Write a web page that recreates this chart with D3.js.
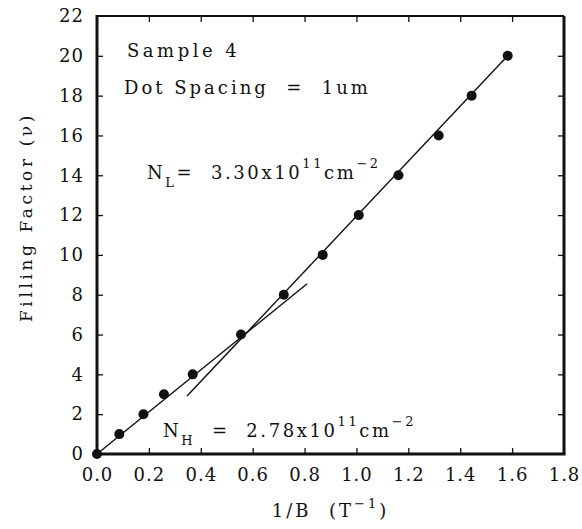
<!DOCTYPE html>
<html>
<head>
<meta charset="utf-8">
<script src="https://cdn.jsdelivr.net/npm/d3@7"></script>
<style>
    body { margin: 0; background: #fff; }
    text { font-family: "DejaVu Serif", serif; fill: #111; white-space: pre; }
</style>
</head>
<body>
<svg id="chart"></svg>
<script>
// data
const invB = [0, 0.086, 0.179, 0.258, 0.369, 0.555, 0.72, 0.87, 1.009, 1.162, 1.317, 1.444, 1.583];
const fillingFactor = [0, 1, 2, 3, 4, 6, 8, 10, 12, 14, 16, 18, 20];
const lowFieldLine = [[0, 0], [0.81, 8.55]];
const highFieldLine = [[0.347, 2.91], [1.583, 20]];
const xTicks = [0, 0.2, 0.4, 0.6, 0.8, 1.0, 1.2, 1.4, 1.6, 1.8];
const yTicks = [0, 2, 4, 6, 8, 10, 12, 14, 16, 18, 20, 22];

const config = {
    containerWidth: 582,
    containerHeight: 529,
    margin: { top: 16, right: 18, bottom: 75, left: 97 }
};

const width = config.containerWidth - config.margin.left - config.margin.right;
const height = config.containerHeight - config.margin.top - config.margin.bottom;

const svg = d3.select("#chart")
    .attr("width", config.containerWidth)
    .attr("height", config.containerHeight);

const chart = svg.append("g")
    .attr("transform", `translate(${config.margin.left},${config.margin.top})`);

const xScale = d3.scaleLinear().domain([0, 1.8]).range([0, width]);
const yScale = d3.scaleLinear().domain([0, 22]).range([height, 0]);

// axes, ticks pointing inwards
const xAxis = d3.axisBottom(xScale).tickValues(xTicks).tickFormat(d3.format(".1f"))
    .tickSizeInner(-6).tickSizeOuter(0).tickPadding(14);
const yAxis = d3.axisLeft(yScale).tickValues(yTicks)
    .tickSizeInner(-6).tickSizeOuter(0).tickPadding(13);
const xTop = d3.axisTop(xScale).tickValues(xTicks).tickFormat("").tickSizeInner(-6).tickSizeOuter(0);
const yRight = d3.axisRight(yScale).tickValues(yTicks).tickFormat("").tickSizeInner(-6).tickSizeOuter(0);

const gx = chart.append("g").attr("transform", `translate(0,${height})`).call(xAxis);
const gy = chart.append("g").call(yAxis);
const gt = chart.append("g").call(xTop);
const gr = chart.append("g").attr("transform", `translate(${width},0)`).call(yRight);

[gx, gy, gt, gr].forEach(g => {
    g.select(".domain").remove();
    g.selectAll("line").attr("stroke", "#111").attr("stroke-width", 1.3);
    g.selectAll("text").attr("font-size", 18).attr("font-family", "DejaVu Serif")
        .attr("letter-spacing", 1).attr("fill", "#111");
});
gx.selectAll(".tick").filter(d => d === 0 || d === 1.8).select("line").remove();
gy.selectAll(".tick").filter(d => d === 0 || d === 22).select("line").remove();
gt.selectAll(".tick").filter(d => d === 0 || d === 1.8).select("line").remove();
gr.selectAll(".tick").filter(d => d === 0 || d === 22).select("line").remove();

// frame
chart.append("line").attr("x1", 0).attr("x2", width).attr("y1", 0).attr("y2", 0)
    .attr("stroke", "#111").attr("stroke-width", 2);
chart.append("line").attr("x1", width).attr("x2", width).attr("y1", 0).attr("y2", height)
    .attr("stroke", "#111").attr("stroke-width", 3);
chart.append("line").attr("x1", 0).attr("x2", 0).attr("y1", -1).attr("y2", height + 1.5)
    .attr("stroke", "#111").attr("stroke-width", 3);
chart.append("line").attr("x1", 0).attr("x2", width + 1.5).attr("y1", height).attr("y2", height)
    .attr("stroke", "#111").attr("stroke-width", 3);

// fitted lines
const line = d3.line().x(d => xScale(d[0])).y(d => yScale(d[1]));
[lowFieldLine, highFieldLine].forEach(seg => {
    chart.append("path")
        .datum(seg)
        .attr("fill", "none")
        .attr("stroke", "#111")
        .attr("stroke-width", 1.4)
        .attr("d", line);
});

// points
chart.selectAll(".dot")
    .data(invB.map((x, i) => [x, fillingFactor[i]]))
    .join("circle")
    .attr("class", "dot")
    .attr("cx", d => xScale(d[0]))
    .attr("cy", d => yScale(d[1]))
    .attr("r", 5)
    .attr("fill", "#111");

// axis titles
chart.append("text")
    .attr("x", width / 2)
    .attr("y", height + 63)
    .attr("text-anchor", "middle")
    .attr("font-size", 18)
    .attr("letter-spacing", 3)
    .call(t => {
        t.append("tspan").text("1/B  (T");
        t.append("tspan").attr("font-size", 13).attr("dy", -9).text("−1");
        t.append("tspan").attr("dy", 9).text(")");
    });

chart.append("text")
    .attr("transform", `translate(-65,${height / 2 - 18}) rotate(-90)`)
    .attr("text-anchor", "middle")
    .attr("font-size", 17)
    .attr("letter-spacing", 3.6)
    .text("Filling Factor (ν)");

// annotations
chart.append("text").attr("x", 30).attr("y", 41).attr("font-size", 18)
    .attr("letter-spacing", 3.5).text("Sample 4");
chart.append("text").attr("x", 27).attr("y", 78).attr("font-size", 18)
    .attr("letter-spacing", 3).text("Dot Spacing  =  1um");

function densityLabel(x, y, sub, value) {
    const t = chart.append("text").attr("x", x).attr("y", y)
        .attr("font-size", 18).attr("letter-spacing", 2.6);
    t.append("tspan").text("N");
    t.append("tspan").attr("font-size", 13).attr("dy", 8).text(sub);
    t.append("tspan").attr("dy", -8).text(value);
    t.append("tspan").attr("font-size", 13).attr("dy", -11).text("11");
    t.append("tspan").attr("dy", 11).text("cm");
    t.append("tspan").attr("font-size", 13).attr("dy", -11).text("−2");
}
densityLabel(50, 163, "L", "=  3.30x10");
densityLabel(66, 421, "H", "  =  2.78x10");
</script>
</body>
</html>
